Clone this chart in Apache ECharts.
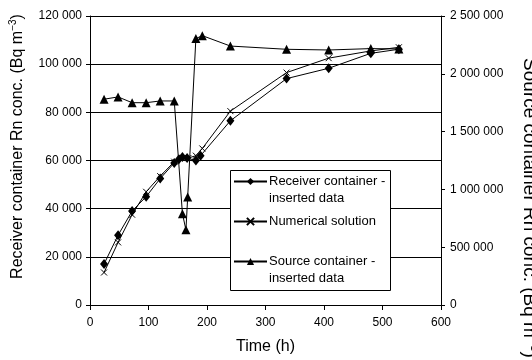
<!DOCTYPE html>
<html>
<head>
<meta charset="utf-8">
<script src="https://cdn.jsdelivr.net/npm/echarts@6/dist/echarts.min.js"></script>
<style>
  html, body { margin: 0; padding: 0; background: #fff; }
  #chart { width: 532px; height: 360px; }
</style>
</head>
<body>
<div id="chart"></div>
<script>
// Receiver container, measured (Bq m-3) against time (h)
const receiverTime = [24, 48, 72, 96, 120, 144, 152, 158, 166, 181, 189, 240, 336, 408, 480, 528];
const receiverConc = [17000, 29000, 39000, 45000, 52500, 59000, 60500, 61500, 61000, 60000, 62000, 76500, 94000, 98300, 104500, 106200];

// Numerical model of the receiver container
const numericalTime = [24, 48, 72, 96, 120, 144, 158, 168, 181, 192, 240, 336, 408, 480, 528];
const numericalConc = [13500, 26000, 37500, 47000, 53500, 59500, 61000, 61000, 62000, 65000, 80500, 96500, 102500, 105500, 107000];

// Source container, measured (Bq m-3), right-hand axis
const sourceTime = [24, 48, 72, 96, 120, 144, 158, 164, 167, 181, 192, 240, 336, 408, 480, 528];
const sourceConc = [1780000, 1800000, 1750000, 1750000, 1765000, 1765000, 790000, 650000, 935000, 2305000, 2330000, 2240000, 2212000, 2206000, 2218000, 2215000];

const seriesNames = ['Receiver container - inserted data', 'Numerical solution', 'Source container - inserted data'];

// Axis ranges and ticks
const timeAxis = { min: 0, max: 600, step: 100 };
const receiverAxis = { min: 0, max: 120000, step: 20000 };
const sourceAxis = { min: 0, max: 2500000, step: 500000 };

const FONT = '"Liberation Sans", Arial, sans-serif';
const INK = '#000';
const thousands = v => String(v).replace(/\B(?=(\d{3})+(?!\d))/g, ' ');
const pair = (xs, ys) => xs.map((x, i) => [x, ys[i]]);
const crossMark = 'path://M0,0L10,10M10,0L0,10';

const leftTitleRich = {
  t: { fontSize: 16, fontFamily: FONT, color: INK, lineHeight: 20 },
  s: { fontSize: 10, fontFamily: FONT, color: INK, lineHeight: 20, verticalAlign: 'top' }
};
const rightTitleRich = {
  t: { fontSize: 19, fontFamily: FONT, color: INK, lineHeight: 23 },
  s: { fontSize: 12, fontFamily: FONT, color: INK, lineHeight: 23, verticalAlign: 'top' }
};

const chart = echarts.init(document.getElementById('chart'), null, { renderer: 'canvas' });

chart.setOption({
  animation: false,
  backgroundColor: '#fff',
  textStyle: { fontFamily: FONT, color: INK },
  grid: { left: 89, right: 91, top: 16, bottom: 55 },
  xAxis: {
    type: 'value',
    min: timeAxis.min, max: timeAxis.max, interval: timeAxis.step,
    name: 'Time (h)', nameLocation: 'middle', nameGap: 34,
    nameTextStyle: { fontSize: 16, color: INK, fontFamily: FONT },
    axisLine: { show: true, lineStyle: { color: INK, width: 1 } },
    axisTick: { show: true, length: 5, lineStyle: { color: INK } },
    axisLabel: { fontSize: 12, color: INK, fontFamily: FONT, margin: 12 },
    splitLine: { show: false }
  },
  yAxis: [
    {
      type: 'value',
      min: receiverAxis.min, max: receiverAxis.max, interval: receiverAxis.step,
      name: '{t|Receiver container Rn conc. (Bq m}{s|−3}{t|)}',
      nameLocation: 'middle', nameGap: 62,
      nameTextStyle: { padding: [0, 0, 0, 28], rich: leftTitleRich },
      axisLine: { show: true, lineStyle: { color: INK, width: 1 } },
      axisTick: { show: true, length: 4, lineStyle: { color: INK } },
      axisLabel: { fontSize: 12, color: INK, fontFamily: FONT, margin: 8, formatter: thousands },
      splitLine: { show: true, lineStyle: { color: INK, width: 1 } }
    },
    {
      type: 'value', position: 'right',
      min: sourceAxis.min, max: sourceAxis.max, interval: sourceAxis.step,
      axisLine: { show: true, lineStyle: { color: INK, width: 1 } },
      axisTick: { show: true, length: 4, lineStyle: { color: INK } },
      axisLabel: { fontSize: 12, color: INK, fontFamily: FONT, margin: 9, formatter: thousands },
      splitLine: { show: false }
    }
  ],
  legend: {
    orient: 'vertical',
    left: 233, top: 156,
    padding: 0, itemGap: 6,
    itemWidth: 33, itemHeight: 9,
    selectedMode: false,
    data: seriesNames,
    formatter: name => name.indexOf(' - ') >= 0 ? '\n' + name.replace(' - ', ' -\n') : name,
    textStyle: { fontSize: 13, lineHeight: 17, color: INK, fontFamily: FONT, padding: [0, 0, 0, -3] }
  },
  graphic: [
    {
      type: 'rect', z: 3,
      shape: { x: 230.5, y: 170.5, width: 160, height: 120 },
      style: { fill: '#fff', stroke: INK, lineWidth: 1 }
    },
    {
      type: 'text', z: 3,
      x: 529, y: 208, rotation: -Math.PI / 2,
      style: {
        text: '{t|Source container Rn conc. (Bq m}{s|−3}{t|)}',
        rich: rightTitleRich,
        align: 'center', verticalAlign: 'middle'
      }
    }
  ],
  series: [
    {
      name: seriesNames[0], type: 'line', z: 4,
      data: pair(receiverTime, receiverConc),
      symbol: 'diamond', symbolSize: [8, 10],
      lineStyle: { color: INK, width: 1 },
      itemStyle: { color: INK }
    },
    {
      name: seriesNames[1], type: 'line', z: 4,
      data: pair(numericalTime, numericalConc),
      symbol: crossMark, symbolSize: 6,
      lineStyle: { color: INK, width: 1 },
      itemStyle: { color: INK, borderColor: INK, borderWidth: 1 }
    },
    {
      name: seriesNames[2], type: 'line', z: 4, yAxisIndex: 1,
      data: pair(sourceTime, sourceConc),
      symbol: 'triangle', symbolSize: 9,
      lineStyle: { color: INK, width: 1 },
      itemStyle: { color: INK }
    }
  ]
});
</script>
</body>
</html>
